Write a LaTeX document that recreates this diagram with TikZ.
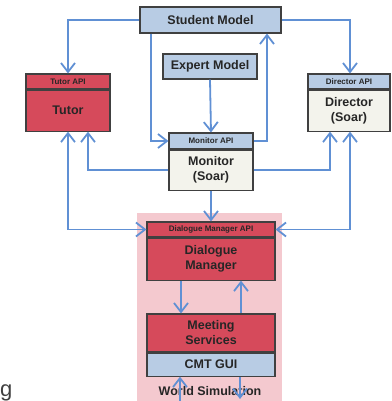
\documentclass[tikz,border=0pt]{standalone}
\usepackage{fontspec}
\setsansfont{Liberation Sans}
\usetikzlibrary{arrows.meta,calc}
\definecolor{boxblue}{HTML}{B8CCE4}
\definecolor{boxred}{HTML}{D64A5B}
\definecolor{bgpink}{HTML}{F4C9CF}
\definecolor{cream}{HTML}{F3F3EC}
\definecolor{linkblue}{HTML}{6090D4}
\definecolor{edge}{HTML}{404040}
\tikzset{
  box/.style={draw=edge, line width=1.1pt, inner sep=0pt, align=center,
    font=\sffamily\bfseries\fontsize{12.5}{15}\selectfont, text=black!85},
  apibox/.style={box, font=\sffamily\bfseries\fontsize{8}{9}\selectfont},
  link/.style={draw=linkblue, line width=1.8pt,
    -{Straight Barb[length=9pt,width=14pt,line width=1.8pt]}},
  blink/.style={link, {Straight Barb[length=9pt,width=14pt,line width=1.8pt]}-{Straight Barb[length=9pt,width=14pt,line width=1.8pt]}},
  plainlink/.style={draw=linkblue, line width=1.8pt}
}
\begin{document}
\begin{tikzpicture}[x=1pt,y=-1pt]
\path[use as bounding box] (0,0) rectangle (391,401);
% background
\fill[bgpink] (137,213) rectangle (282,401);
\node[anchor=center, font=\sffamily\bfseries\fontsize{12.5}{15}\selectfont, text=black!85] (ws) at (210,391) {World Simulation};
% boxes
\node[box, fill=boxblue, minimum width=141pt, minimum height=26pt] (sm) at (210.5,20) {Student Model};
\node[box, fill=boxblue, minimum width=94pt, minimum height=25pt] (em) at (210,66.5) {Expert Model};
% Tutor
\node[apibox, fill=boxred, minimum width=84pt, minimum height=15pt] (tutapi) at (68,81.5) {Tutor API};
\node[box, fill=boxred, minimum width=84pt, minimum height=41pt, anchor=north] (tut) at (tutapi.south) {Tutor};
% Director
\node[apibox, fill=boxblue, minimum width=82pt, minimum height=15pt] (dirapi) at (349,81.5) {Director API};
\node[box, fill=cream, minimum width=82pt, minimum height=41pt, anchor=north] (dir) at (dirapi.south) {Director\\(Soar)};
% Monitor
\node[apibox, fill=boxblue, minimum width=84pt, minimum height=16pt] (monapi) at (211,141) {Monitor API};
\node[box, fill=cream, minimum width=84pt, minimum height=40pt, anchor=north] (mon) at (monapi.south) {Monitor\\(Soar)};
% Dialogue manager
\node[apibox, fill=boxred, minimum width=128pt, minimum height=15pt] (dmapi) at (211,229.5) {Dialogue Manager API};
\node[box, fill=boxred, minimum width=128pt, minimum height=42pt, anchor=north] (dm) at (dmapi.south) {Dialogue\\Manager};
% Meeting services
\node[box, fill=boxred, minimum width=128pt, minimum height=38pt] (ms) at (211,333) {Meeting\\Services};
\node[box, fill=boxblue, minimum width=128pt, minimum height=23pt, anchor=north] (cmt) at (ms.south) {CMT GUI};
% stray letter
\node[anchor=base west, inner sep=0pt, font=\sffamily\fontsize{22}{22}\selectfont, text=black!75] (g) at (0,396.5) {g};
% helper coordinates
\coordinate (tutL) at (68,0);
\coordinate (tutR) at (88,0);
\coordinate (dirL) at (330,0);
\coordinate (dirR) at (350,0);
\coordinate (smL) at (151,0);
\coordinate (smR) at (267,0);
\coordinate (dmL) at (181,0);
\coordinate (dmR) at (241,0);
\coordinate (bot) at (0,401);
\coordinate (botarrow) at (0,399);
% connectors
\draw[link] (sm.west) -| (tutapi.north -| tutL);
\draw[link] (sm.south -| smL) |- (monapi.west);
\draw[link] (sm.east) -| (dirapi.north -| dirR);
\draw[link] (monapi.east) -| (sm.south -| smR);
\draw[link] (em.south) -- (monapi.north);
\draw[link] (mon.west |- 0,170) -| (tut.south -| tutR);
\draw[link] (mon.east |- 0,170) -| (dir.south -| dirL);
\draw[link] (mon.south) -- (dmapi.north);
\draw[blink] (tut.south -| tutL) |- (dmapi.west);
\draw[blink] (dir.south -| dirR) |- (dmapi.east);
\draw[link] (dm.south -| dmL) -- (ms.north -| dmL);
\draw[link] (ms.north -| dmR) -- (dm.south -| dmR);
\draw[link] (bot -| 180,0) -- (cmt.south -| 180,0);
\draw[link] (cmt.south -| 240,0) -- (botarrow -| 240,0);
\end{tikzpicture}
\end{document}
